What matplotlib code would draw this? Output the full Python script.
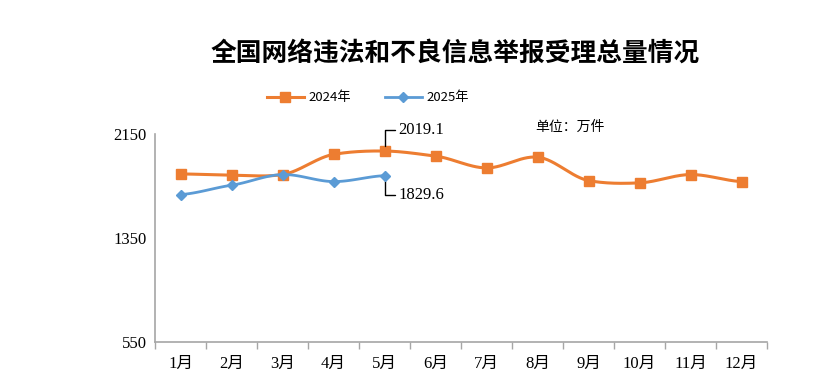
import numpy as np
import matplotlib
matplotlib.use("Agg")
import matplotlib.pyplot as plt
from matplotlib.lines import Line2D

months = ["1月", "2月", "3月", "4月", "5月", "6月", "7月", "8月", "9月", "10月", "11月", "12月"]
v2024 = [1843, 1833, 1838, 1993, 2019.1, 1980, 1889, 1972, 1792, 1774, 1838, 1784]
v2025 = [1684, 1756, 1838, 1784, 1829.6]
yticks = [550, 1350, 2150]

ORANGE = "#ED7D31"
BLUE = "#5B9BD5"
SERIF = ["Liberation Serif", "Noto Sans CJK SC"]
CJK = ["Noto Sans CJK SC", "DejaVu Sans"]


def smooth(x, y, n=30):
    x = np.asarray(x, float)
    y = np.asarray(y, float)
    if len(x) < 3:
        return x, y
    m = np.zeros_like(y)
    m[1:-1] = (y[2:] - y[:-2]) / (x[2:] - x[:-2])
    m[0] = (y[1] - y[0]) / (x[1] - x[0])
    m[-1] = (y[-1] - y[-2]) / (x[-1] - x[-2])
    m *= 0.75
    m[0] *= 0.5
    m[-1] *= 0.5
    xs, ys = [], []
    for i in range(len(x) - 1):
        h = x[i + 1] - x[i]
        t = np.linspace(0, 1, n, endpoint=(i == len(x) - 2))
        h00 = 2 * t**3 - 3 * t**2 + 1
        h10 = t**3 - 2 * t**2 + t
        h01 = -2 * t**3 + 3 * t**2
        h11 = t**3 - t**2
        xs.append(x[i] + t * h)
        ys.append(h00 * y[i] + h10 * h * m[i] + h01 * y[i + 1] + h11 * h * m[i + 1])
    return np.concatenate(xs), np.concatenate(ys)


fig = plt.figure(figsize=(8.32, 3.92), dpi=100)
ax = fig.add_axes([155 / 832, 1 - 342 / 392, (767 - 155) / 832, (342 - 134) / 392])

x24 = np.arange(len(v2024))
x25 = np.arange(len(v2025))
sx, sy = smooth(x24, v2024)
ax.plot(sx, sy, color=ORANGE, lw=2.2, zorder=2)
ax.plot(x24, v2024, ls="none", marker="s", ms=7.5, color=ORANGE, zorder=3)
sx, sy = smooth(x25, v2025)
ax.plot(sx, sy, color=BLUE, lw=2.0, zorder=4)
ax.plot(x25, v2025, ls="none", marker="D", ms=5.5, color=BLUE, zorder=5)

ax.set_xlim(-0.5, len(months) - 0.5)
ax.set_ylim(yticks[0], yticks[-1])
ax.set_yticks(yticks)
ax.set_yticklabels([str(t) for t in yticks], family=SERIF, fontsize=12)
ax.set_xticks(x24)
ax.set_xticklabels(months, family=SERIF, fontsize=12)
ax.set_xticks(np.arange(-0.5, len(months)), minor=True)
ax.tick_params(axis="x", which="major", length=0, pad=10)
ax.tick_params(axis="x", which="minor", length=5, color="#A6A6A6", width=1)
ax.tick_params(axis="y", length=0, pad=6)
for s in ["top", "right"]:
    ax.spines[s].set_visible(False)
for s in ["left", "bottom"]:
    ax.spines[s].set_color("#A6A6A6")
    ax.spines[s].set_linewidth(1.2)

# annotations for May values
i = 4
ax.annotate(f"{v2024[i]}", xy=(i, v2024[i] + 40), xytext=(i + 0.27, v2024[i] + 165),
            textcoords="data", family=SERIF, fontsize=12, va="center", ha="left",
            arrowprops=dict(arrowstyle="-", color="black", lw=1,
                            connectionstyle="angle,angleA=0,angleB=90,rad=0",
                            shrinkA=0, shrinkB=0))
ax.annotate(f"{v2025[i]}", xy=(i, v2025[i] - 40), xytext=(i + 0.27, v2025[i] - 150),
            textcoords="data", family=SERIF, fontsize=12, va="center", ha="left",
            arrowprops=dict(arrowstyle="-", color="black", lw=1,
                            connectionstyle="angle,angleA=0,angleB=90,rad=0",
                            shrinkA=0, shrinkB=0))

fig.text(455 / 832, 1 - 53 / 392, "全国网络违法和不良信息举报受理总量情况", family=CJK,
         fontsize=18.5, fontweight="bold", ha="center", va="center")
fig.text(535 / 832, 1 - 127 / 392, "单位：万件", family=CJK, fontsize=10,
         ha="left", va="center")

handles = [Line2D([], [], color=ORANGE, lw=2.2, marker="s", ms=6.5),
           Line2D([], [], color=BLUE, lw=2.0, marker="D", ms=5)]
fig.legend(handles, ["2024年", "2025年"], loc="center", bbox_to_anchor=(368 / 832, 1 - 98 / 392),
           ncol=2, frameon=False, prop={"family": CJK, "size": 9.5}, handlelength=2.8,
           columnspacing=2.5, handletextpad=0.4)

fig.savefig("out.png", dpi=100)
